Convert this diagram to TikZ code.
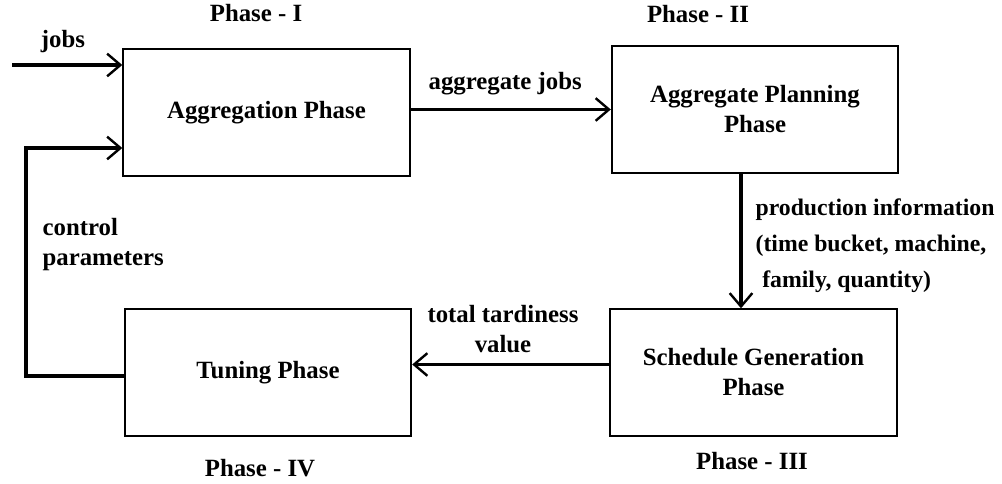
\documentclass[tikz,border=0pt]{standalone}
\usepackage{fontspec}
\setmainfont{Liberation Serif}
\usetikzlibrary{arrows.meta}
\tikzset{
  lbl/.style={font=\bfseries\fontsize{18.6}{22.5}\selectfont},
  phasebox/.style={draw,line width=1.3pt,minimum width=215pt,minimum height=95pt,align=center,inner sep=0pt},
  flowlbl/.style={lbl,inner sep=0pt},
}
\begin{document}
\begin{tikzpicture}[x=0.75pt,y=-0.75pt,line width=2.4pt,
  >={Straight Barb[length=10pt,width=17pt,line width=1.8pt]},every node/.style={lbl}]
\useasboundingbox (0,0) rectangle (1002,484);
% the four phases
\node[phasebox] (agg) at (266.5,112.5) {Aggregation Phase};
\node[phasebox] (plan) at (755,109.5) {Aggregate Planning\\Phase};
\node[phasebox] (sched) at (753.5,372.5) {Schedule Generation\\Phase};
\node[phasebox] (tun) at (268,372.5) {Tuning Phase};
% phase titles
\node[anchor=base] (ph1) at (256,22) {Phase - I};
\node[anchor=base] (ph2) at (698,23) {Phase - II};
\node[anchor=base] (ph3) at (752,469) {Phase - III};
\node[anchor=base] (ph4) at (260,476) {Phase - IV};
% flows
\coordinate (jobsin) at (12,65);
\draw[->] (jobsin) -- (jobsin -| agg.west);
\node[flowlbl,anchor=base] (jobs) at (63,48) {jobs};
\draw[->] (agg.east |- plan.west) -- (plan.west);
\node[flowlbl,anchor=base west] (aggjobs) at (427,90) {aggregate jobs};
\coordinate (pstem) at ([xshift=-10.5pt]plan.south);
\draw[->] (pstem) -- (pstem |- sched.north);
\node[flowlbl,anchor=base west,align=left,font=\bfseries\fontsize{17.8}{27}\selectfont] (prodinfo) at (754,288)
  {production information\\(time bucket, machine,\\\hspace{5pt}family, quantity)};
\draw[->] ([yshift=6pt]sched.west) -- ([yshift=6pt]tun.east);
\node[flowlbl,anchor=base,align=center] (tard) at (503,352) {total tardiness\\value};
\coordinate (fbcorner) at (26,148);
\draw[->] ([yshift=-2.6pt]tun.west) -| (fbcorner) -- (fbcorner -| agg.west);
\node[flowlbl,anchor=base west,align=left] (ctrl) at (41,266) {control\\parameters};
\end{tikzpicture}
\end{document}
